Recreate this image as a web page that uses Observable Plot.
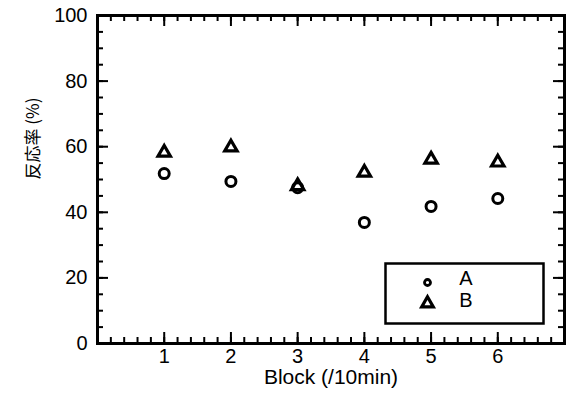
<!DOCTYPE html>
<html><head><meta charset="utf-8">
<script src="https://cdn.jsdelivr.net/npm/d3@7"></script>
<script src="https://cdn.jsdelivr.net/npm/@observablehq/plot@0.6"></script>
<style>
body{margin:0;background:#fff}
#chart{width:568px;height:401px}
</style>
</head><body><div id="chart"></div>
<script>
// ---- data ----
const blocks = [1, 2, 3, 4, 5, 6];
const seriesA = [51.8, 49.4, 47.5, 36.9, 41.8, 44.2];
const seriesB = [58.2, 59.8, 48.0, 52.1, 56.1, 55.2];
const seriesNames = ["A", "B"];
const xTickLabels = [1, 2, 3, 4, 5, 6];
const yTickLabels = [0, 20, 40, 60, 80, 100];
const xTitle = "Block (/10min)";
const yTitle = "反応率 (%)";

// ---- derived tables ----
const pointsA = blocks.map((b, i) => ({block: b, value: seriesA[i]}));
const pointsB = blocks.map((b, i) => ({block: b, value: seriesB[i]}));
const xMinor = d3.range(0, 36).map(i => i / 5);
const xMajor = d3.range(0, 8);
const yMinor = d3.range(0, 101, 5);
const yMajor = d3.range(0, 101, 20);

const W = 568, H = 401;
const mL = 97, mR = 4, mT = 15, mB = 58;
const iw = W - mL - mR, ih = H - mT - mB;
const xDom = [0, 7], yDom = [0, 100];
const ly = px => px * (yDom[1] - yDom[0]) / ih;
const lx = px => px * (xDom[1] - xDom[0]) / iw;
const tk = {stroke: "#000", strokeWidth: 2};

const chart = Plot.plot({
  width: W, height: H,
  marginLeft: mL, marginRight: mR, marginTop: mT, marginBottom: mB,
  style: {fontFamily: "Liberation Sans, Arial, sans-serif", fontSize: "20px", color: "#000", background: "#fff", overflow: "visible"},
  x: {domain: xDom, axis: null},
  y: {domain: yDom, axis: null},
  marks: [
    // tick labels and titles
    Plot.text(xTickLabels, {x: d => d, frameAnchor: "bottom", dy: 19, text: d => String(d), fontSize: 20, fill: "#000"}),
    Plot.text(yTickLabels, {y: d => d, frameAnchor: "left", dx: -10, textAnchor: "end", text: d => String(d), fontSize: 20, fill: "#000"}),
    Plot.text([xTitle], {frameAnchor: "bottom", dy: 40, text: d => d, fontSize: 21, fill: "#000"}),
    Plot.text([yTitle], {frameAnchor: "left", dx: -64, rotate: -90, text: d => d, fontSize: 17, fill: "#000",
      fontFamily: "Noto Sans CJK JP, sans-serif"}),
    // data
    Plot.dot(pointsA, {x: "block", y: "value", symbol: "circle", r: 5, stroke: "#000", strokeWidth: 3, fill: "none"}),
    Plot.dot(pointsB, {x: "block", y: "value", symbol: "triangle", r: 4.6, stroke: "#000", strokeWidth: 3.2, fill: "none"}),
    // legend
    Plot.frame({stroke: "#000", strokeWidth: 2.5, insetLeft: 288, insetRight: 21, insetTop: 248, insetBottom: 20}),
    Plot.dot([seriesNames[0]], {frameAnchor: "bottom-right", dx: -137, dy: -61, symbol: "circle", r: 3, stroke: "#000", strokeWidth: 2.8, fill: "none"}),
    Plot.dot([seriesNames[1]], {frameAnchor: "bottom-right", dx: -137, dy: -40, symbol: "triangle", r: 4.3, stroke: "#000", strokeWidth: 3.2, fill: "none"}),
    Plot.text([seriesNames[0]], {frameAnchor: "bottom-right", dx: -92, dy: -59, text: d => d, fontSize: 20, fill: "#000"}),
    Plot.text([seriesNames[1]], {frameAnchor: "bottom-right", dx: -92, dy: -37, text: d => d, fontSize: 20, fill: "#000"}),
    // frame and inward ticks (drawn last)
    Plot.frame({stroke: "#000", strokeWidth: 3}),
    Plot.ruleX(xMinor, {x: d => d, y1: yDom[0], y2: yDom[0] + ly(6), ...tk}),
    Plot.ruleX(xMajor, {x: d => d, y1: yDom[0], y2: yDom[0] + ly(11), ...tk}),
    Plot.ruleX(xMinor, {x: d => d, y1: yDom[1], y2: yDom[1] - ly(6), ...tk}),
    Plot.ruleX(xMajor, {x: d => d, y1: yDom[1], y2: yDom[1] - ly(11), ...tk}),
    Plot.ruleY(yMinor, {y: d => d, x1: xDom[0], x2: xDom[0] + lx(6), ...tk}),
    Plot.ruleY(yMajor, {y: d => d, x1: xDom[0], x2: xDom[0] + lx(11), ...tk}),
    Plot.ruleY(yMinor, {y: d => d, x1: xDom[1], x2: xDom[1] - lx(6), ...tk}),
    Plot.ruleY(yMajor, {y: d => d, x1: xDom[1], x2: xDom[1] - lx(11), ...tk})
  ]
});
document.getElementById("chart").appendChild(chart);
</script>
</body></html>
